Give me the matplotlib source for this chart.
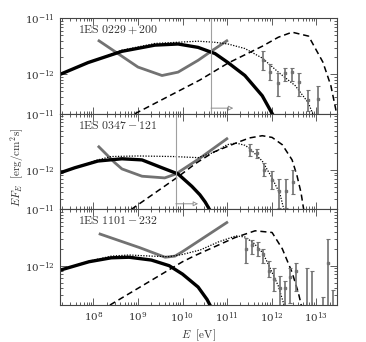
import numpy as np
import matplotlib
matplotlib.use("Agg")
import matplotlib.pyplot as plt
from matplotlib.ticker import LogLocator, LogFormatterMathtext, NullFormatter

plt.rcParams['mathtext.fontset'] = 'cm'
plt.rcParams['font.family'] = ['DejaVu Serif']

# all values are log10(E/eV) and log10(EF_E / erg cm^-2 s^-1)
names = ["1ES 0229+200", "1ES 0347-121", "1ES 1101-232"]
xticks = [8, 9, 10, 11, 12, 13]
yticks = [-12, -11]

# synchrotron (thick black)
sync_e = [[7.25, 7.88, 8.64, 9.38, 9.9, 10.35, 10.73, 11.02, 11.40, 11.79, 12.05],
          [7.25, 7.58, 8.10, 8.64, 9.09, 9.54, 9.90, 10.21, 10.39, 10.51, 10.62, 10.7],
          [7.25, 7.9, 8.4, 8.8, 9.3, 9.7, 10.0, 10.35, 10.55, 10.65]]
sync_f = [[-12.0, -11.79, -11.59, -11.48, -11.46, -11.52, -11.63, -11.79, -12.02, -12.38, -12.75],
          [-12.05, -11.96, -11.84, -11.80, -11.82, -11.96, -12.07, -12.29, -12.44, -12.57, -12.72, -12.85],
          [-12.08, -11.93, -11.86, -11.85, -11.90, -12.0, -12.15, -12.38, -12.6, -12.75]]

# total absorbed (dotted)
tot_e = [[7.25, 7.88, 8.64, 9.38, 10.35, 10.73, 11.02, 11.40, 11.79, 12.15, 12.53, 12.82, 12.95],
         [7.25, 7.58, 8.10, 8.4, 9.0, 9.8, 10.35, 10.73, 11.0, 11.2, 11.4, 11.5, 11.79, 12.01, 12.19, 12.28],
         [7.25, 7.9, 8.4, 8.8, 9.3, 9.7, 10.0, 10.4, 10.8, 11.2, 11.4, 11.6, 11.8, 11.97, 12.15, 12.28]]
tot_f = [[-12.0, -11.79, -11.57, -11.45, -11.41, -11.43, -11.46, -11.54, -11.71, -11.96, -12.2, -12.5, -12.75],
         [-12.05, -11.96, -11.82, -11.76, -11.75, -11.76, -11.78, -11.68, -11.55, -11.52, -11.56, -11.61, -11.84, -12.14, -12.43, -12.72],
         [-12.08, -11.92, -11.83, -11.81, -11.83, -11.84, -11.8, -11.72, -11.58, -11.47, -11.49, -11.6, -11.77, -12.05, -12.36, -12.7]]

# intrinsic IC (dashed)
ic_e = [[8.93, 10.39, 11.02, 11.79, 12.15, 12.46, 12.83, 13.15, 13.33, 13.44, 13.5],
        [8.85, 9.9, 10.3, 10.7, 11.2, 11.5, 11.79, 12.01, 12.24, 12.46, 12.57, 12.66, 12.73],
        [8.37, 10.0, 10.28, 11.18, 11.63, 12.01, 12.24, 12.46, 12.6, 12.66, 12.7]]
ic_f = [[-12.7, -12.1, -11.8, -11.5, -11.34, -11.25, -11.32, -11.78, -12.2, -12.62, -12.9],
        [-12.7, -12.12, -11.88, -11.68, -11.52, -11.43, -11.39, -11.42, -11.55, -11.82, -12.1, -12.4, -12.75],
        [-12.7, -11.93, -11.82, -11.5, -11.38, -11.41, -11.7, -12.12, -12.48, -12.68, -12.85]]

# sensitivity curve (thick grey)
sens_e = [[8.10, 8.55, 9.0, 9.54, 9.90, 10.35, 10.66, 11.02],
          [8.10, 8.48, 8.64, 9.09, 9.6, 9.85, 10.39, 11.02],
          [8.12, 9.04, 9.61, 9.83, 10.0, 11.02]]
sens_f = [[-11.39, -11.63, -11.87, -12.02, -11.96, -11.75, -11.58, -11.39],
          [-11.57, -11.87, -11.98, -12.11, -12.14, -12.07, -11.79, -11.43],
          [-11.43, -11.68, -11.85, -11.83, -11.75, -11.22]]

# energy threshold line and arrow
vline_e = [10.64, 9.85, None]
arrow_f = -12.6

# measured points: energy, value, lower, upper
pt_e = [[11.81, 11.97, 12.15, 12.30, 12.46, 12.62, 12.82, 13.04],
        [11.52, 11.67, 11.83, 12.01, 12.17, 12.33, 12.48],
        [11.43, 11.56, 11.70, 11.81, 11.94, 12.06, 12.19, 12.30, 12.42, 12.55, 12.80, 12.91, 13.16, 13.27, 13.38]]
pt_f = [[-11.75, -11.95, -12.16, -11.98, -11.96, -12.14, -12.46, -12.43],
        [-11.64, -11.70, -12.00, -12.17, -12.38, -12.38, -12.21],
        [-11.70, -11.64, -11.70, -11.79, -12.09, -12.23, -12.39, -12.39, -12.21, -12.09, -13.5, -13.5, -13.5, -11.95, -13.5]]
pt_lo = [[-11.93, -12.10, -12.38, -12.12, -12.12, -12.38, -12.65, -12.72],
         [-11.75, -11.79, -12.11, -12.34, -12.68, -12.68, -12.42],
         [-11.96, -11.80, -11.83, -11.95, -12.21, -12.45, -12.75, -12.75, -12.66, -12.45, -13.6, -13.6, -13.6, -13.6, -13.6]]
pt_hi = [[-11.59, -11.81, -11.98, -11.89, -11.88, -11.98, -12.28, -12.20],
         [-11.54, -11.63, -11.88, -12.02, -12.16, -12.16, -12.00],
         [-11.50, -11.55, -11.58, -11.70, -11.91, -12.04, -12.18, -12.27, -12.04, -11.95, -12.05, -12.10, -12.55, -11.52, -12.43]]

grey = '#727272'
fig, axes = plt.subplots(3, 1, figsize=(3.66, 3.42), dpi=100, sharex=True)
fig.subplots_adjust(left=0.164, right=0.921, top=0.947, bottom=0.108, hspace=0)

for i, ax in enumerate(axes):
    ax.set_xscale('log')
    ax.set_yscale('log')
    ax.plot(10**np.array(sens_e[i]), 10**np.array(sens_f[i]), color=grey, lw=2.0, solid_capstyle='butt')
    ax.plot(10**np.array(sync_e[i]), 10**np.array(sync_f[i]), color='black', lw=2.4)
    ax.plot(10**np.array(ic_e[i]), 10**np.array(ic_f[i]), color='black', lw=1.1, ls=(0, (4, 2.5)))
    ax.plot(10**np.array(tot_e[i]), 10**np.array(tot_f[i]), color='black', lw=0.9, ls=(0, (1, 1.2)))
    if vline_e[i] is not None:
        ax.axvline(10**vline_e[i], color='#a0a0a0', lw=0.8)
        ax.annotate('', xy=(10**(vline_e[i] + 0.5), 10**arrow_f), xytext=(10**vline_e[i], 10**arrow_f),
                    arrowprops=dict(arrowstyle='-|>', color='#909090', fc='white', lw=0.7,
                                    mutation_scale=7, shrinkA=0, shrinkB=0))
    c = 10**np.array(pt_f[i])
    lo = 10**np.array(pt_lo[i])
    hi = 10**np.array(pt_hi[i])
    ax.errorbar(10**np.array(pt_e[i]), c, yerr=[c - lo, hi - c], fmt='s', ms=1.5, color=grey,
                elinewidth=1.2, capsize=1.5, capthick=0.8)
    ax.text(0.066, 0.88, r'$\mathrm{' + names[i].replace(' ', r'\ ') + '}$', transform=ax.transAxes,
            fontsize=8.5, color='#333333', va='center', ha='left')
    ax.set_xlim(10**7.25, 10**13.47)
    ax.set_ylim(10**-12.7, 1e-11)
    ax.set_xticks([10.0**k for k in xticks])
    ax.xaxis.set_minor_locator(LogLocator(base=10, subs=np.arange(2, 10), numticks=20))
    ax.set_yticks([10.0**k for k in yticks])
    ax.yaxis.set_minor_locator(LogLocator(base=10, subs=np.arange(2, 10), numticks=20))
    ax.yaxis.set_major_formatter(LogFormatterMathtext())
    ax.yaxis.set_minor_formatter(NullFormatter())
    ax.xaxis.set_minor_formatter(NullFormatter())
    ax.tick_params(which='both', direction='in', top=True, right=True, colors='#444444',
                   labelcolor='#333333', labelsize=7.5, width=0.6)
    ax.tick_params(which='major', length=5)
    ax.tick_params(which='minor', length=2.5)
    for s in ax.spines.values():
        s.set_color('#444444')
        s.set_linewidth(0.8)

axes[-1].xaxis.set_major_formatter(LogFormatterMathtext())
axes[-1].set_xlabel(r'$E\ \ [\mathrm{eV}]$', fontsize=8, color='#333333', labelpad=2)
fig.text(17 / 366, 1 - 167 / 342, r'$EF_E\ \ [\mathrm{erg/cm^2s}]$', rotation=90, fontsize=8,
         color='#333333', ha='center', va='center')

fig.savefig('out.png', dpi=100)
